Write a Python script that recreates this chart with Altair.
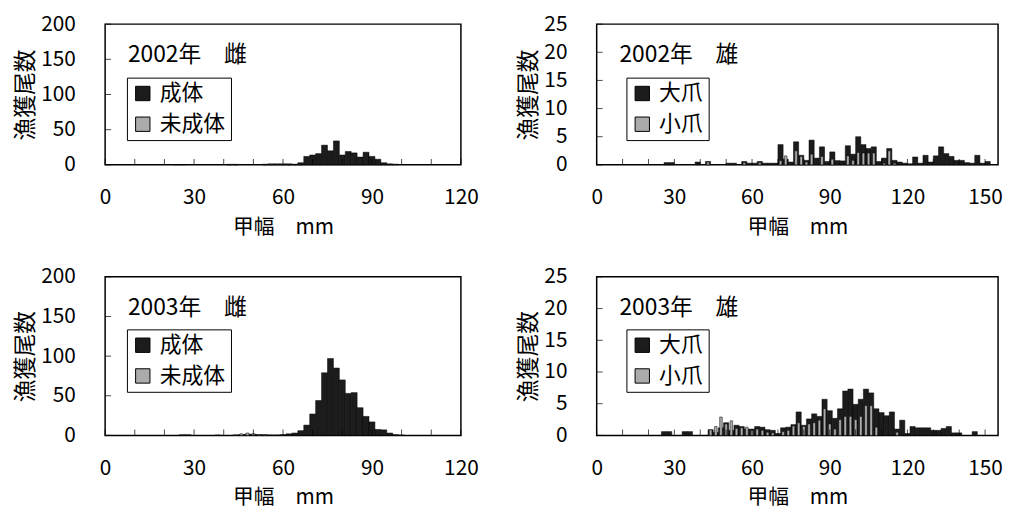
import altair as alt
import pandas as pd

FONT = "Noto Sans CJK JP"

# ---- 2002 female (bin start, mm; 2-mm bins) ----
f02_bin = [23, 25, 41, 43, 53, 55, 57, 59, 61, 63, 65, 67, 69, 71, 73, 75, 77, 79, 81, 83, 85, 87, 89, 91, 93, 95, 97]
f02_adult = [0.5, 0.5, 0.8, 0.8, 1.0, 1.5, 1.5, 1.5, 1.5, 1.0, 3, 12, 14, 16, 28, 20, 34, 14, 19, 17, 11, 18, 12, 8, 3, 1.5, 1]
f02_imm = [0, 0, 0.4, 0.4, 0.4, 0.5, 0.5, 0.4, 0.3, 0.3, 0.3, 0, 0, 0, 0, 0, 0, 0, 0, 0, 0, 0, 0, 0, 0, 0, 0]

# ---- 2003 female ----
f03_bin = [25, 27, 37, 43, 45, 47, 49, 51, 53, 55, 57, 59, 61, 63, 65, 67, 69, 71, 73, 75, 77, 79, 81, 83, 85, 87, 89, 91, 93, 95, 97, 99]
f03_adult = [0.8, 0.8, 0.5, 0.5, 1.0, 1.5, 1.5, 1.0, 0.8, 0.5, 0.5, 1.0, 2.0, 3, 6, 13, 27, 44, 79, 97, 85, 70, 53, 54, 35, 24, 17, 7.5, 7, 3, 1, 0.5]
f03_imm = [0, 0, 0, 0.5, 2, 3, 2, 1, 0.5, 0.3, 0.3, 0.3, 0.3, 0, 0, 0, 0, 0, 0, 0, 0, 0, 0, 0, 0, 0, 0, 0, 0, 0, 0, 0]

# ---- 2002 male ----
m02_bin = [26, 28, 38, 42, 50, 52, 56, 58, 60, 62, 64, 66, 68, 70, 72, 74, 76, 78, 80, 82,
           84, 86, 88, 90, 92, 94, 96, 98, 100, 102, 104, 106, 108, 110, 112, 114, 116, 118, 120, 122,
           124, 126, 128, 130, 132, 134, 136, 138, 140, 142, 144, 146, 148, 150]
m02_large = [0.4, 0.4, 0.5, 0.6, 0.3, 0.3, 0.6, 0.3, 0.3, 0.6, 0.3, 0.3, 0.3, 3.6, 1.0, 0.5, 4.1, 1.7, 0.8, 4.4,
             1.2, 3.2, 0.6, 2.3, 0.75, 0.7, 3.4, 1.9, 5.0, 3.6, 2.9, 3.2, 0.6, 1.2, 2.9, 0.8, 0.5, 0.3, 0.2, 1.4,
             0.3, 1.7, 0.5, 1.6, 3.2, 2.0, 1.5, 0.8, 0.8, 0.4, 0.3, 1.7, 0.3, 0.6]
m02_small = [0, 0, 0, 0.5, 0, 0, 0.4, 0, 0, 0.4, 0, 0, 0, 0.75, 1.6, 0, 2.5, 1.5, 0.5, 1.9,
             0, 1.5, 0, 1.0, 0, 0, 1.6, 0.8, 2.2, 2.1, 2.1, 2.1, 0, 0.3, 2.5, 0.3, 0, 0, 0, 0,
             0, 0, 0, 0, 0, 0, 0, 0, 0, 0, 0, 0, 0, 0]

# ---- 2003 male ----
m03_bin = [25, 27, 33, 35, 43, 45, 47, 49, 51, 53, 55, 57, 59, 61, 63, 65, 67, 69, 71, 73, 75, 77, 79, 81,
           83, 85, 87, 89, 91, 93, 95, 97, 99, 101, 103, 105, 107, 109, 111, 113, 115, 117, 119, 121,
           123, 125, 127, 129, 131, 133, 135, 137, 139, 145]
m03_large = [0.6, 0.6, 0.6, 0.6, 0.9, 0.5, 1.2, 2.0, 0.8, 1.6, 1.4, 1.0, 1.0, 1.4, 1.3, 0.9, 0.8, 0.3, 1.2, 1.3, 1.7, 3.7, 1.6, 2.6,
             3.4, 3.0, 5.7, 3.9, 2.7, 4.2, 7.0, 7.3, 4.9, 5.7, 7.3, 6.7, 4.2, 3.6, 3.1, 3.7, 1.0, 2.4, 0.3, 1.4,
             1.2, 1.2, 1.2, 0.8, 0.8, 1.1, 1.4, 0.4, 0.4, 0.6]
m03_small = [0, 0, 0, 0, 0.9, 1.4, 2.9, 1.8, 2.3, 1.1, 1.2, 1.3, 0.8, 1.0, 0.8, 0.5, 0.4, 0, 0.6, 0.8, 1.5, 2.0, 1.4, 1.8,
             2.0, 2.4, 4.2, 1.8, 1.0, 2.5, 3.0, 3.0, 2.5, 3.0, 4.7, 4.7, 1.3, 0, 0, 0, 0.5, 0, 0, 0,
             0, 0, 0, 0, 0, 0, 0, 0, 0, 0]

F_NAMES = ["成体", "未成体"]
M_NAMES = ["大爪", "小爪"]
BLACK = "#1c1c1c"
GREY = "#ababab"


def panel(bins, s1, s2, names, xmax, xlabels, ymax, ystep, width, height, title, lx, ly):
    n = len(bins)
    df = pd.DataFrame({
        "start": list(bins) * 2,
        "value": list(s1) + list(s2),
        "kind": [names[0]] * n + [names[1]] * n,
    })
    df = df[df["value"] > 0]
    xscale = alt.Scale(domain=[0, xmax], nice=False, zero=False)
    yscale = alt.Scale(domain=[0, ymax], nice=False)
    color = alt.Color(
        "kind:N",
        scale=alt.Scale(domain=names, range=[BLACK, GREY]),
        legend=alt.Legend(
            orient="none", legendX=lx, legendY=ly, title=None,
            strokeColor="black", fillColor="white", padding=5,
            symbolType="square", symbolSize=210, symbolStrokeColor="black",
            symbolStrokeWidth=1, labelFontSize=22, labelFont=FONT,
            labelColor="black", rowPadding=9, labelOffset=6,
        ),
    )
    xaxis = alt.Axis(values=xlabels, ticks=False, tickSize=0, domain=False, grid=False,
                     labelPadding=22, labelFontSize=21, labelFont=FONT, labelColor="black",
                     titleFontSize=21, titleFont=FONT, titleFontWeight="normal", titleColor="black",
                     titlePadding=9, labelFlush=False, labelOverlap=False)
    yvals = list(range(0, ymax + 1, ystep))
    yaxis = alt.Axis(values=yvals, tickCount=len(yvals), ticks=False, tickSize=0, domain=False, grid=False,
                     labelPadding=30, labelFontSize=21, labelFont=FONT, labelColor="black",
                     titleFontSize=23, titleFont=FONT, titleFontWeight="normal", titleColor="black",
                     titlePadding=3, labelOverlap=False, labelFlush=False, labelSeparation=0)
    base = alt.Chart(df)
    black = base.transform_filter(alt.datum.kind == names[0]).transform_calculate(
        end="datum.start + 2"
    ).mark_bar(stroke="#000", strokeWidth=0.5).encode(
        x=alt.X("start:Q", scale=xscale, axis=xaxis, title="甲幅　mm"),
        x2="end:Q",
        y=alt.Y("value:Q", scale=yscale, axis=yaxis, title="漁獲尾数"),
        y2=alt.datum(0),
        color=color,
    )
    grey = base.transform_filter(alt.datum.kind == names[1]).transform_calculate(
        x0="datum.start + 0.5", x1="datum.start + 1.5"
    ).mark_bar(stroke="#000", strokeWidth=0.5).encode(
        x=alt.X("x0:Q", scale=xscale, axis=xaxis, title="甲幅　mm"),
        x2="x1:Q",
        y=alt.Y("value:Q", scale=yscale, axis=yaxis, title="漁獲尾数"),
        y2=alt.datum(0),
        color=color,
    )
    xt = alt.Chart(pd.DataFrame({"t": list(range(0, xmax + 1, 10))})).mark_tick(
        orient="vertical", size=6, thickness=1, color="black", yOffset=-3
    ).encode(
        x=alt.X("t:Q", scale=xscale, axis=xaxis, title="甲幅　mm"),
        y=alt.datum(0),
    )
    yt = alt.Chart(pd.DataFrame({"t": yvals})).mark_tick(
        orient="horizontal", size=6, thickness=1, color="black", xOffset=3
    ).encode(
        y=alt.Y("t:Q", scale=yscale, axis=yaxis, title="漁獲尾数"),
        x=alt.datum(0),
    )
    return alt.layer(black, grey, xt, yt).properties(
        width=width, height=height,
        title=alt.TitleParams(text=title, anchor="start", frame="group", dx=23, dy=58,
                              fontSize=23, font=FONT, fontWeight="normal", color="black"),
    )


p1 = panel(f02_bin, f02_adult, f02_imm, F_NAMES, 120, [0, 30, 60, 90, 120], 200, 50, 359, 142, "2002年　雌", 22, 54)
p2 = panel(m02_bin, m02_large, m02_small, M_NAMES, 155, [0, 30, 60, 90, 120, 150], 25, 5, 405, 142, "2002年　雄", 30, 54)
p3 = panel(f03_bin, f03_adult, f03_imm, F_NAMES, 120, [0, 30, 60, 90, 120], 200, 50, 359, 160, "2003年　雌", 22, 53)
p4 = panel(m03_bin, m03_large, m03_small, M_NAMES, 155, [0, 30, 60, 90, 120, 150], 25, 5, 405, 160, "2003年　雄", 30, 53)

top = alt.hconcat(p1, p2, spacing=37).resolve_scale(color="independent")
bottom = alt.hconcat(p3, p4, spacing=37).resolve_scale(color="independent")
chart = alt.vconcat(top, bottom, spacing=27).resolve_scale(color="independent").properties(
    padding={"left": 6, "top": 2, "right": 0, "bottom": 0}
).configure_view(stroke="black", strokeWidth=1.5).configure_axis(labelOverlap=False)

chart.save("out.html", embed_options={"renderer": "svg", "actions": False})
